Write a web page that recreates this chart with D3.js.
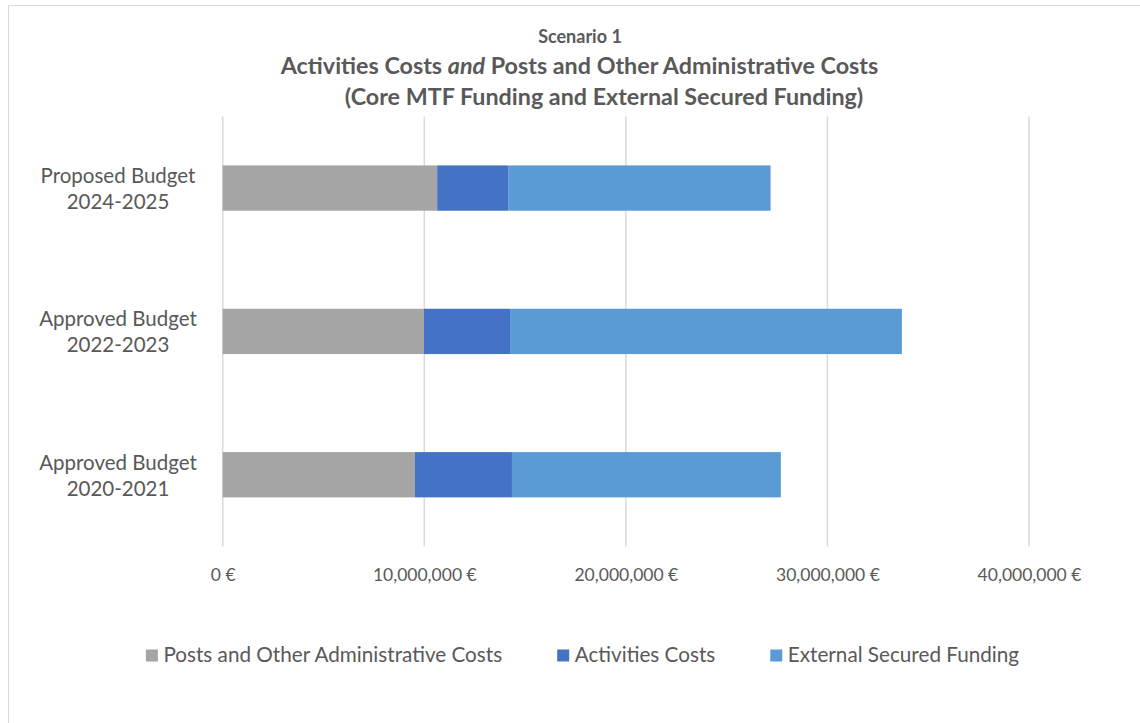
<!DOCTYPE html>
<html>
<head>
<meta charset="utf-8">
<script src="https://cdn.jsdelivr.net/npm/d3@7"></script>
<style>
  body { margin: 0; background: #fff; }
  svg text { font-family: Lato, "Open Sans", sans-serif; fill: #595959; }
</style>
</head>
<body>
<div id="chart"></div>
<script>
// budget periods, top to bottom as drawn
var periods = [["Proposed Budget", "2024-2025"], ["Approved Budget", "2022-2023"], ["Approved Budget", "2020-2021"]];
var seriesNames = ["Posts and Other Administrative Costs", "Activities Costs", "External Secured Funding"];
var seriesColors = ["#a5a5a5", "#4472c4", "#5b9bd5"];

// values in euro, one per period (same order as periods)
var postsAdmin = [10640000, 9985000, 9540000];
var activities = [3520000, 4270000, 4810000];
var externalFunding = [13020000, 19440000, 13340000];

var xTicks = [0, 10000000, 20000000, 30000000, 40000000];

var width = 1140, height = 723;
var margin = {top: 116.4, right: 111, bottom: 176.6, left: 222.7};

var svg = d3.select("#chart")
  .append("svg")
    .attr("width", width)
    .attr("height", height);

// chart area border (runs past the right and bottom edge)
svg.append("rect")
  .attr("x", 8.5).attr("y", 5.5)
  .attr("width", 1150).attr("height", 740)
  .attr("fill", "none")
  .attr("stroke", "#d9d9d9")
  .attr("stroke-width", 1);

// titles
svg.append("text")
  .attr("x", 580).attr("y", 43)
  .attr("text-anchor", "middle")
  .style("font-size", "18px").style("font-weight", "bold")
  .text("Scenario 1");

var t = svg.append("text")
  .attr("x", 579.5).attr("y", 74)
  .attr("text-anchor", "middle")
  .style("font-size", "23.3px").style("font-weight", "bold");
t.append("tspan").text("Activities Costs ");
t.append("tspan").style("font-style", "italic").text("and");
t.append("tspan").text(" Posts and Other Administrative Costs");

svg.append("text")
  .attr("x", 604).attr("y", 105)
  .attr("text-anchor", "middle")
  .style("font-size", "23.3px").style("font-weight", "bold")
  .text("(Core MTF Funding and External Secured Funding)");

var x = d3.scaleLinear()
  .domain([0, 40000000])
  .range([margin.left, width - margin.right]);

var y = d3.scaleBand()
  .domain(periods.map(function(d) { return d.join(" "); }))
  .range([margin.top, height - margin.bottom])
  .paddingInner(0.684)
  .paddingOuter(0.342);

// gridlines
svg.append("g")
  .selectAll("line")
  .data(xTicks)
  .enter()
  .append("line")
    .attr("x1", function(d) { return x(d); })
    .attr("x2", function(d) { return x(d); })
    .attr("y1", margin.top)
    .attr("y2", height - margin.bottom)
    .attr("stroke", "#d9d9d9")
    .attr("stroke-width", 1.5);

// x axis labels
var fmt = d3.format(",");
var xAxis = svg.append("g")
  .attr("transform", "translate(0," + (height - margin.bottom) + ")")
  .call(d3.axisBottom(x).tickValues(xTicks).tickSize(0).tickPadding(22)
    .tickFormat(function(d) { return fmt(d) + " €"; }));
xAxis.select(".domain").remove();
xAxis.selectAll("text")
  .style("font-size", "17.5px")
  .style("font-family", "Lato, sans-serif")
  .attr("fill", "#595959");

// category labels (two lines each)
var cat = svg.append("g")
  .selectAll("text")
  .data(periods)
  .enter()
  .append("text")
    .attr("text-anchor", "middle")
    .style("font-size", "20.5px")
    .attr("transform", function(d) {
      return "translate(118," + (y(d.join(" ")) + y.bandwidth() / 2) + ")";
    });
cat.append("tspan").attr("x", 0).attr("y", -5).text(function(d) { return d[0]; });
cat.append("tspan").attr("x", 0).attr("y", 21).text(function(d) { return d[1]; });

// stack the series
var rows = periods.map(function(p, i) {
  return {period: p.join(" "), s0: postsAdmin[i], s1: activities[i], s2: externalFunding[i]};
});
var stack = d3.stack().keys(["s0", "s1", "s2"]);
var layers = stack(rows);

svg.append("g")
  .selectAll("g")
  .data(layers)
  .enter()
  .append("g")
    .attr("fill", function(d, i) { return seriesColors[i]; })
  .selectAll("rect")
  .data(function(d) { return d; })
  .enter()
  .append("rect")
    .attr("x", function(d) { return x(d[0]); })
    .attr("width", function(d) { return x(d[1]) - x(d[0]); })
    .attr("y", function(d) { return y(d.data.period); })
    .attr("height", y.bandwidth());

// legend, centered
var gap = 55;
var legend = svg.append("g");
var items = legend.selectAll("g")
  .data(seriesNames)
  .enter()
  .append("g");
items.append("rect")
  .attr("width", 12).attr("height", 12)
  .attr("y", -12)
  .attr("fill", function(d, i) { return seriesColors[i]; });
items.append("text")
  .attr("x", 17.5)
  .style("font-size", "20.7px")
  .text(function(d) { return d; });

var pos = 0;
items.each(function() {
  var w = 17.5 + d3.select(this).select("text").node().getComputedTextLength();
  d3.select(this).attr("transform", "translate(" + pos + ",0)");
  pos += w + gap;
});
var total = pos - gap;
legend.attr("transform", "translate(" + (582.5 - total / 2) + ",661.5)");
</script>
</body>
</html>
